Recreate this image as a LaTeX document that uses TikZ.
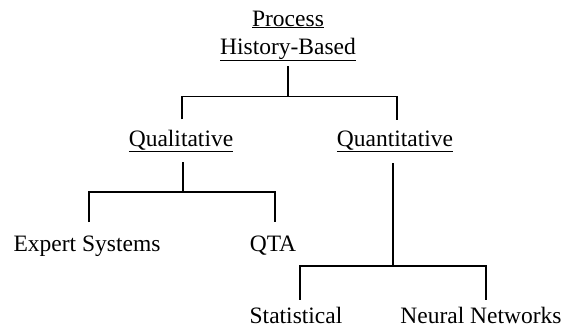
\documentclass[tikz,border=0pt]{standalone}
\usepackage{fontspec}
\setmainfont{Liberation Serif}
\begin{document}
\begin{tikzpicture}[x=1pt,y=-1pt,
  lbl/.style={inner sep=0pt,anchor=base,font=\fontsize{23.5}{28}\selectfont},
  link/.style={line width=1.5pt}]
\useasboundingbox (0,0) rectangle (565,330);

% labels
\node[lbl] (proc)  at (288,26)  {\underline{Process}};
\node[lbl] (hist)  at (288,54)  {\underline{History-Based}};
\node[lbl] (qual)  at (181,146) {\underline{Qualitative}};
\node[lbl] (quant) at (395,146) {\underline{Quantitative}};
\node[lbl] (exp)   at (87,251)  {Expert Systems};
\node[lbl] (qta)   at (273,251) {QTA};
\node[lbl] (stat)  at (296,323) {Statistical};
\node[lbl] (nn)    at (481,323) {Neural Networks};

% History-Based -> Qualitative / Quantitative
\draw[link] ([yshift=-5pt]hist.south) -- ([yshift=-35pt]hist.south) coordinate (j1);
\draw[link] ([xshift=1pt,yshift=10pt]qual.north) |- (j1)
            -| ([xshift=2pt,yshift=10pt]quant.north);

% Qualitative -> Expert Systems / QTA
\draw[link] ([xshift=2pt,yshift=-10pt]qual.south) -- ([xshift=2pt,yshift=-40pt]qual.south) coordinate (j2);
\draw[link] ([xshift=2pt,yshift=13pt]exp.north) |- (j2)
            -| ([xshift=2pt,yshift=13pt]qta.north);

% Quantitative -> Statistical / Neural Networks
\draw[link] ([xshift=-2pt,yshift=-11pt]quant.south) -- ([xshift=-2pt,yshift=-114pt]quant.south) coordinate (j3);
\draw[link] ([xshift=4pt,yshift=7pt]stat.north) |- (j3)
            -| ([xshift=5pt,yshift=7pt]nn.north);
\end{tikzpicture}
\end{document}
